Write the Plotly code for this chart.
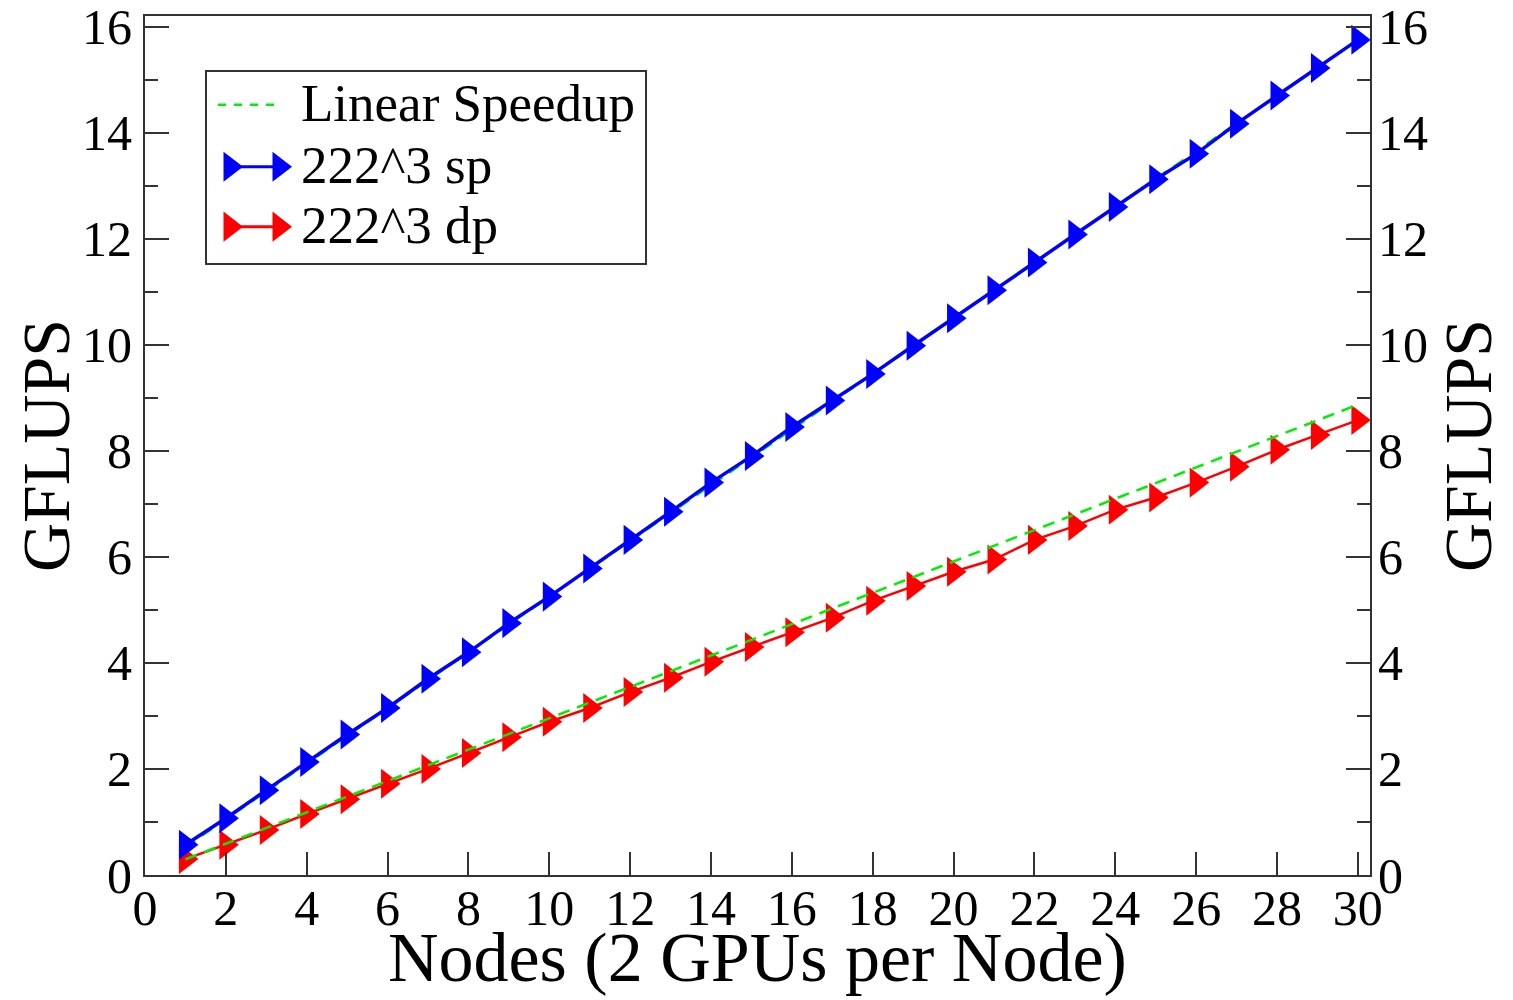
import plotly.graph_objects as go

nodes = list(range(1, 31))
sp_222 = [0.57, 1.07, 1.6, 2.13, 2.65, 3.15, 3.7, 4.2, 4.75, 5.25,
          5.78, 6.32, 6.85, 7.4, 7.9, 8.45, 8.95, 9.45, 9.98, 10.5,
          11.03, 11.55, 12.08, 12.6, 13.12, 13.6, 14.17, 14.7, 15.22, 15.75]
dp_222 = [0.3, 0.57, 0.85, 1.15, 1.43, 1.72, 2.0, 2.3, 2.6, 2.89,
          3.15, 3.45, 3.72, 4.02, 4.3, 4.58, 4.85, 5.17, 5.45, 5.72,
          5.95, 6.32, 6.58, 6.89, 7.12, 7.4, 7.7, 8.02, 8.3, 8.58]
linear_x = [1, 30]
linear_sp = [0.525, 15.75]
linear_dp = [0.295, 8.87]

legend_labels = ["Linear Speedup", "222^3 sp", "222^3 dp"]
x_title = "Nodes (2 GPUs per Node)"
y_title = "GFLUPS"

FONT = "Liberation Serif, Times New Roman, serif"
GREEN, BLUE, RED = "#00ee00", "#0000ff", "#ff0000"
DASH = "12px,8px"

fig = go.Figure()
fig.add_trace(go.Scatter(x=nodes, y=dp_222, mode="lines+markers", name=legend_labels[2],
                         line=dict(color=RED, width=2.5),
                         marker=dict(symbol="triangle-right", size=26, color=RED)))
fig.add_trace(go.Scatter(x=linear_x, y=linear_dp, mode="lines", name=legend_labels[0],
                         line=dict(color=GREEN, width=2.5, dash=DASH)))
fig.add_trace(go.Scatter(x=linear_x, y=linear_sp, mode="lines", name=legend_labels[0],
                         line=dict(color=GREEN, width=2.5, dash=DASH)))
fig.add_trace(go.Scatter(x=nodes, y=sp_222, mode="lines+markers", name=legend_labels[1],
                         line=dict(color=BLUE, width=3.5),
                         marker=dict(symbol="triangle-right", size=26, color=BLUE)))
# invisible trace to bind the right-hand axis
fig.add_trace(go.Scatter(x=[None], y=[None], yaxis="y2", showlegend=False, hoverinfo="skip"))

# ---- hand-drawn legend (xmgrace style), positioned in plot-fraction units ----
box = dict(x0=0.0498, x1=0.409, y0=0.7113, y1=0.936)
rows_y = [0.8988, 0.8266, 0.7568]
key_x0, key_x1 = 0.0596, 0.1086   # dashed key extent
tri_x0, tri_x1 = 0.0694, 0.1094   # triangle key positions
text_x = 0.1255

fig.add_shape(type="rect", xref="paper", yref="paper", **box,
              line=dict(color="#333333", width=2), fillcolor="white", layer="below")
fig.add_trace(go.Scatter(x=[key_x0, key_x1], y=[rows_y[0] - 0.002] * 2, mode="lines",
                         xaxis="x2", yaxis="y3", hoverinfo="skip",
                         line=dict(color=GREEN, width=2.5, dash="8px,8px")))
for col, ry in ((BLUE, rows_y[1]), (RED, rows_y[2])):
    fig.add_trace(go.Scatter(x=[tri_x0, tri_x1], y=[ry - 0.002] * 2, mode="lines+markers",
                             xaxis="x2", yaxis="y3", hoverinfo="skip",
                             line=dict(color=col, width=3),
                             marker=dict(symbol="triangle-right", size=26, color=col)))
for lab, ry in zip(legend_labels, rows_y):
    fig.add_annotation(text=lab, x=text_x, y=ry, xref="paper", yref="paper",
                       xanchor="left", yanchor="middle", showarrow=False,
                       font=dict(family=FONT, size=53, color="black"))

# x-axis title placed as annotation for exact vertical placement
fig.add_annotation(text=x_title, x=0.5, y=-0.0965, xref="paper", yref="paper",
                   xanchor="center", yanchor="middle", showarrow=False,
                   font=dict(family=FONT, size=70, color="black"))

axis_common = dict(showgrid=False, zeroline=False, showline=True, linecolor="#333333",
                   linewidth=2, ticks="inside", tickcolor="#333333", tickwidth=2,
                   automargin=False,
                   tickfont=dict(family=FONT, size=50, color="black"))
minor = dict(ticks="inside", dtick=1, ticklen=13, tickcolor="#333333", tickwidth=2)

fig.update_layout(
    width=1513, height=1000,
    paper_bgcolor="white", plot_bgcolor="white",
    margin=dict(l=137, r=151, t=8, b=133),
    font=dict(family=FONT, color="black"),
    showlegend=False,
    xaxis=dict(range=[0, 30.3], dtick=2, tick0=0, ticklen=23, mirror=True,
               ticklabelstandoff=-12,
               **axis_common),
    xaxis2=dict(range=[0, 1], overlaying="x", visible=False, fixedrange=True),
    yaxis=dict(range=[0, 16.2], dtick=2, tick0=0, ticklen=24, ticklabelstandoff=1,
               ticklabeloverflow="allow", minor=minor,
               title=dict(text=y_title, font=dict(family=FONT, size=68), standoff=3),
               **axis_common),
    yaxis2=dict(range=[0, 16.2], dtick=2, tick0=0, ticklen=24, overlaying="y", side="right",
                ticklabelstandoff=-4, ticklabeloverflow="allow", minor=minor,
                title=dict(text=y_title, font=dict(family=FONT, size=68), standoff=16),
                **axis_common),
    yaxis3=dict(range=[0, 1], overlaying="y", visible=False, fixedrange=True),
)

fig.write_html("out.html")
